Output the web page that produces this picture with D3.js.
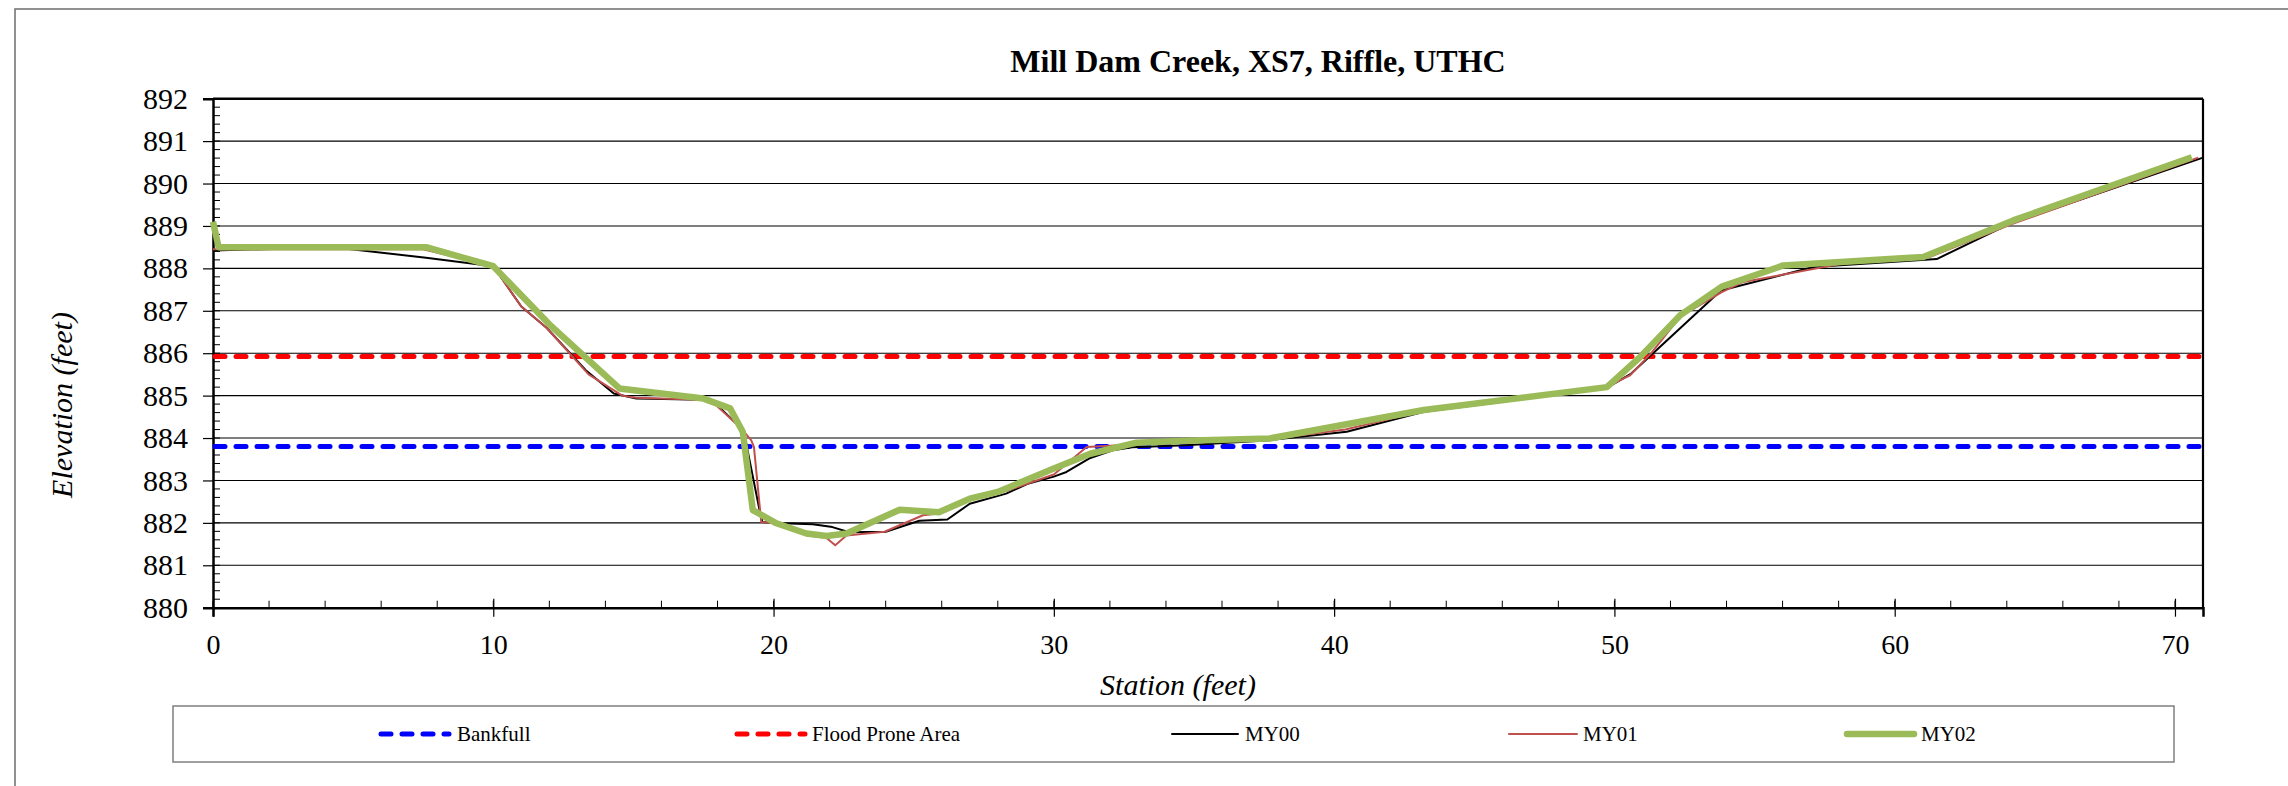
<!DOCTYPE html>
<html>
<head>
<meta charset="utf-8">
<script src="https://cdn.jsdelivr.net/npm/d3@7"></script>
<style>
  html, body { margin: 0; padding: 0; background: #fff; }
  svg { display: block; }
  text { font-family: "Liberation Serif", "Times New Roman", serif; fill: #000; }
</style>
</head>
<body>
<svg id="chart" width="2288" height="786"></svg>
<script>
// Cross-section survey: station (ft) vs elevation (ft)
const title = "Mill Dam Creek, XS7, Riffle, UTHC";
const xLabel = "Station (feet)";
const yLabel = "Elevation (feet)";

const xTicks = [0, 10, 20, 30, 40, 50, 60, 70];
const yTicks = [880, 881, 882, 883, 884, 885, 886, 887, 888, 889, 890, 891, 892];

const bankfullElev = 883.8;
const floodProneElev = 885.92;

const my00 = [
  [0, 888.42], [4.3, 888.5], [7.6, 888.25], [10, 888.05], [11, 887.1], [11.9, 886.6],
  [13.3, 885.6], [14.3, 885.05], [15.1, 884.93], [17.5, 884.9], [17.95, 884.8],
  [18.8, 884.26], [19.0, 883.95], [19.5, 882.3], [19.6, 882.02], [20.3, 881.99],
  [21.4, 881.97], [22.1, 881.9], [22.7, 881.78], [24.0, 881.79], [25.2, 882.05],
  [26.2, 882.08], [27.0, 882.45], [28.3, 882.69], [29.1, 882.93], [30.0, 883.09],
  [30.45, 883.2], [31.3, 883.53], [32.1, 883.71], [32.8, 883.78], [34.7, 883.83],
  [37.7, 883.95], [40.45, 884.15], [43.2, 884.62], [49.7, 885.17], [50.6, 885.52],
  [53.8, 887.48], [57.1, 888.03], [61.5, 888.22], [64.1, 889.05], [71, 890.61]
];

const my01 = [
  [0, 888.45], [7.5, 888.45], [10, 888.05], [11, 887.1], [11.9, 886.6], [13.4, 885.5],
  [14.6, 885.0], [15.1, 884.95], [17.5, 884.9], [17.95, 884.77], [18.8, 884.26],
  [19.2, 883.95], [19.3, 883.79], [19.56, 882.02], [20, 881.99], [21.17, 881.71],
  [21.88, 881.65], [22.2, 881.47], [22.6, 881.7], [23.96, 881.79], [25.33, 882.18],
  [25.9, 882.22], [27.0, 882.6], [28.3, 882.75], [30.0, 883.14], [31.17, 883.79],
  [32.83, 883.85], [37.7, 883.97], [40.4, 884.2], [43.2, 884.64], [49.7, 885.2],
  [50.56, 885.48], [51.3, 885.99], [52.35, 886.86], [53.83, 887.44], [54.6, 887.68],
  [58.05, 888.1], [61.26, 888.27], [64.2, 889.05], [70.83, 890.61]
];

const my02 = [
  [0, 889.1], [0.2, 888.5], [7.6, 888.5], [10, 888.05], [12, 886.68], [14.5, 885.17],
  [17.5, 884.93], [18.45, 884.7], [18.9, 884.15], [19.26, 882.3], [20.1, 881.99],
  [21.17, 881.75], [21.9, 881.69], [22.6, 881.75], [24.5, 882.31], [25.9, 882.25],
  [27.0, 882.57], [28.0, 882.73], [30.0, 883.28], [31.3, 883.63], [32.95, 883.89],
  [35.3, 883.95], [37.7, 883.99], [43.2, 884.66], [49.73, 885.2], [50.92, 885.91],
  [52.34, 886.89], [53.83, 887.57], [56.03, 888.07], [61.02, 888.27], [64.23, 889.13],
  [70.6, 890.62]
];

const legendNames = ["Bankfull", "Flood Prone Area", "MY00", "MY01", "MY02"];

const svg = d3.select("#chart");

// outer chart frame
svg.append("rect")
  .attr("x", 15).attr("y", 9).attr("width", 2300).attr("height", 800)
  .attr("fill", "none").attr("stroke", "#6e6e6e").attr("stroke-width", 1.5);

const x = d3.scaleLinear().domain([0, 71]).range([213, 2203]);
const y = d3.scaleLinear().domain([880, 892]).range([607.7, 98.7]);

// horizontal gridlines
svg.append("g").selectAll("line")
  .data(yTicks.filter(v => v > 880 && v < 892))
  .join("line")
  .attr("x1", x(0)).attr("x2", x(71))
  .attr("y1", d => y(d)).attr("y2", d => y(d))
  .attr("stroke", "#000").attr("stroke-width", 1.1);

// minor y ticks (inside), every 0.2 ft
const yMinor = d3.range(880, 892.001, 0.2).map(v => +v.toFixed(1));
svg.append("g").selectAll("line").data(yMinor).join("line")
  .attr("x1", x(0)).attr("x2", x(0) + 7)
  .attr("y1", d => y(d)).attr("y2", d => y(d))
  .attr("stroke", "#000").attr("stroke-width", 1);

// minor x ticks (inside), every 2 ft
const xMinor = d3.range(0, 71, 2);
svg.append("g").selectAll("line").data(xMinor).join("line")
  .attr("x1", d => x(d)).attr("x2", d => x(d))
  .attr("y1", y(880)).attr("y2", y(880) - 7)
  .attr("stroke", "#000").attr("stroke-width", 1);

// left axis with outside major ticks
svg.append("g")
  .attr("transform", `translate(${x(0)},0)`)
  .call(d3.axisLeft(y).tickValues(yTicks).tickSize(10).tickPadding(15).tickFormat(d3.format("d")))
  .call(g => g.select(".domain").attr("stroke-width", 2.5))
  .call(g => g.selectAll(".tick line").attr("stroke-width", 1.2))
  .call(g => g.selectAll(".tick text")
    .attr("font-family", "'Liberation Serif', 'Times New Roman', serif")
    .attr("font-size", 30).attr("fill", "#000"));

// bottom axis with crossing major ticks
svg.append("g")
  .attr("transform", `translate(0,${y(880)})`)
  .call(d3.axisBottom(x).tickValues(xTicks).tickSize(9).tickPadding(17).tickFormat(d3.format("d")))
  .call(g => g.select(".domain").attr("stroke-width", 2.5))
  .call(g => g.selectAll(".tick line").attr("y1", -9).attr("stroke-width", 1.2))
  .call(g => g.selectAll(".tick text")
    .attr("font-family", "'Liberation Serif', 'Times New Roman', serif")
    .attr("font-size", 28).attr("fill", "#000"));

// top and right plot border
svg.append("line").attr("x1", x(0)).attr("x2", x(71)).attr("y1", y(892)).attr("y2", y(892))
  .attr("stroke", "#000").attr("stroke-width", 2.4);
svg.append("line").attr("x1", x(71)).attr("x2", x(71)).attr("y1", y(892)).attr("y2", y(880))
  .attr("stroke", "#000").attr("stroke-width", 2.2);

// reference elevations
const refLines = [
  { v: bankfullElev, color: "#0000ff" },
  { v: floodProneElev, color: "#ff0000" }
];
svg.append("g").selectAll("line").data(refLines).join("line")
  .attr("x1", x(0) + 2).attr("x2", x(71))
  .attr("y1", d => y(d.v)).attr("y2", d => y(d.v))
  .attr("stroke", d => d.color).attr("stroke-width", 5)
  .attr("stroke-dasharray", "10,11").attr("stroke-linecap", "round");

// survey profiles
const line = d3.line().x(d => x(d[0])).y(d => y(d[1]));
const series = [
  { data: my00, color: "#000000", width: 2 },
  { data: my01, color: "#c0504d", width: 2 },
  { data: my02, color: "#9bbb59", width: 6.5 }
];
svg.append("g").selectAll("path").data(series).join("path")
  .attr("d", d => line(d.data))
  .attr("fill", "none")
  .attr("stroke", d => d.color)
  .attr("stroke-width", d => d.width)
  .attr("stroke-linejoin", "round");

// titles
svg.append("text").attr("x", 1258).attr("y", 72).attr("text-anchor", "middle")
  .attr("font-size", 32).attr("font-weight", "bold").text(title);

svg.append("text").attr("x", 1178).attr("y", 695).attr("text-anchor", "middle")
  .attr("font-size", 30).attr("font-style", "italic").text(xLabel);

svg.append("text")
  .attr("transform", `translate(72,405) rotate(-90)`)
  .attr("text-anchor", "middle")
  .attr("font-size", 30).attr("font-style", "italic")
  .text(yLabel);

// legend
svg.append("rect").attr("x", 173).attr("y", 706).attr("width", 2001).attr("height", 56)
  .attr("fill", "#fff").attr("stroke", "#7f7f7f").attr("stroke-width", 1.5);

const legendItems = [
  { name: legendNames[0], color: "#0000ff", width: 5, dash: "10,11", x0: 381, x1: 449, tx: 457 },
  { name: legendNames[1], color: "#ff0000", width: 5, dash: "10,11", x0: 737, x1: 805, tx: 812 },
  { name: legendNames[2], color: "#000000", width: 2, dash: null, x0: 1172, x1: 1238, tx: 1245 },
  { name: legendNames[3], color: "#c0504d", width: 2, dash: null, x0: 1509, x1: 1577, tx: 1583 },
  { name: legendNames[4], color: "#9bbb59", width: 6.5, dash: null, x0: 1847, x1: 1914, tx: 1921 }
];
const lg = svg.append("g").selectAll("g").data(legendItems).join("g");
lg.append("line")
  .attr("x1", d => d.x0).attr("x2", d => d.x1).attr("y1", 734).attr("y2", 734)
  .attr("stroke", d => d.color).attr("stroke-width", d => d.width)
  .attr("stroke-dasharray", d => d.dash)
  .attr("stroke-linecap", "round");
lg.append("text").attr("x", d => d.tx).attr("y", 741)
  .attr("font-size", 21).text(d => d.name);
</script>
</body>
</html>
